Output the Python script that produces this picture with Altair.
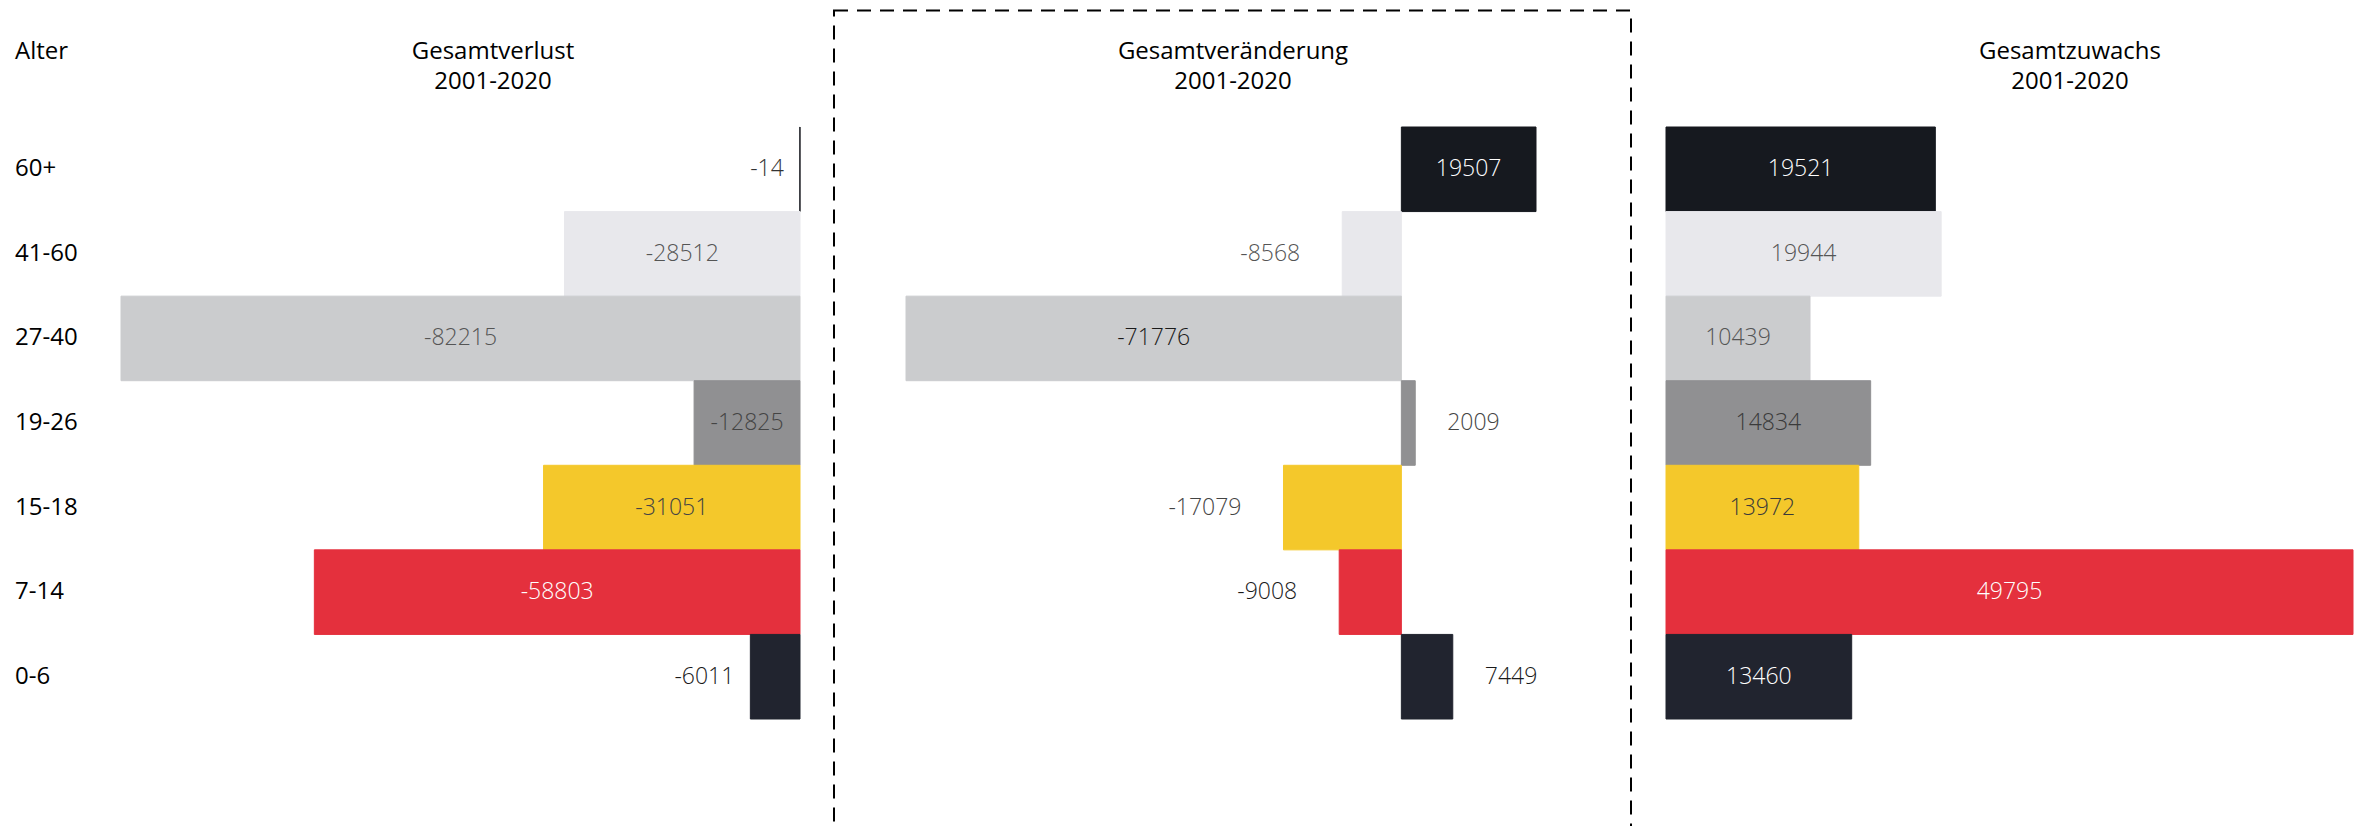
import altair as alt
import pandas as pd

# ---- data ----
ages = ["60+", "41-60", "27-40", "19-26", "15-18", "7-14", "0-6"]
verlust = [-14, -28512, -82215, -12825, -31051, -58803, -6011]
veraenderung = [19507, -8568, -71776, 2009, -17079, -9008, 7449]
zuwachs = [19521, 19944, 10439, 14834, 13972, 49795, 13460]

# ---- style ----
bar_colors = ["#16191F", "#E8E8EC", "#CBCCCE", "#909092", "#F4C82B", "#E4303D", "#21242F"]
verlust_inside = [False, True, True, True, True, True, False]
veraenderung_inside = [True, False, True, False, False, False, False]
zuwachs_inside = [True, True, True, True, True, True, True]
verlust_lc = ["#333333", "#555555", "#555555", "#444444", "#444444", "#FFFFFF", "#1A1A1A"]
veraenderung_lc = ["#FFFFFF", "#555555", "#1A1A1A", "#444444", "#444444", "#1A1A1A", "#1A1A1A"]
zuwachs_lc = ["#FFFFFF", "#555555", "#555555", "#3A3A3A", "#3A3A3A", "#FFFFFF", "#FFFFFF"]

FONT = "Open Sans"
LABEL_SIZE = 23
HEAD_SIZE = 24

yscale = alt.Scale(domain=ages, range=[119, 711], paddingInner=0, paddingOuter=0)
color_scale = alt.Scale(domain=ages, range=bar_colors)


def panel(values, inside, lcolors, domain, rng, dneg, dpos):
    df = pd.DataFrame({
        "age": ages,
        "value": values,
        "lbl": [str(v) for v in values],
        "inside": inside,
        "lc": lcolors,
    })
    xs = alt.Scale(domain=domain, range=rng, nice=False, zero=False)
    base = alt.Chart(df)
    y = alt.Y("age:N", sort=ages, scale=yscale, axis=None)
    bars = base.mark_bar(strokeWidth=1).encode(
        x=alt.X("value:Q", scale=xs, axis=None),
        x2=alt.datum(0),
        y=y,
        color=alt.Color("age:N", scale=color_scale, legend=None),
        stroke=alt.Stroke("age:N", scale=color_scale, legend=None),
    )
    txt = dict(font=FONT, fontSize=LABEL_SIZE, fontWeight=300, baseline="middle")
    inside_t = base.transform_filter("datum.inside").transform_calculate(
        mid="datum.value / 2"
    ).mark_text(align="center", **txt).encode(
        x=alt.X("mid:Q", scale=xs, axis=None),
        y=y,
        text="lbl:N",
        color=alt.Color("lc:N", scale=None),
    )
    neg_t = base.transform_filter("!datum.inside && datum.value < 0").mark_text(
        align="right", dx=dneg, **txt
    ).encode(
        x=alt.X("value:Q", scale=xs, axis=None),
        y=y,
        text="lbl:N",
        color=alt.Color("lc:N", scale=None),
    )
    pos_t = base.transform_filter("!datum.inside && datum.value >= 0").mark_text(
        align="left", dx=dpos, **txt
    ).encode(
        x=alt.X("value:Q", scale=xs, axis=None),
        y=y,
        text="lbl:N",
        color=alt.Color("lc:N", scale=None),
    )
    return [bars, inside_t, neg_t, pos_t]


dummy = pd.DataFrame({"a": [0]})


def head(text, x, y, align="center"):
    return alt.Chart(dummy).mark_text(
        text=text, font=FONT, fontSize=HEAD_SIZE, fontWeight=500, color="#000000",
        align=align, baseline="middle"
    ).encode(x=alt.value(x), y=alt.value(y))


layers = []
layers += panel(verlust, verlust_inside, verlust_lc, [-82215, 0], [113, 792], -16, 16)
layers += panel(veraenderung, veraenderung_inside, veraenderung_lc, [-71776, 19507], [898, 1528], -42, 32)
layers += panel(zuwachs, zuwachs_inside, zuwachs_lc, [0, 49795], [1658, 2345], -16, 16)

age_df = pd.DataFrame({"age": ages})
age_labels = alt.Chart(age_df).mark_text(
    font=FONT, fontSize=HEAD_SIZE, fontWeight=500, align="left", baseline="middle", color="#000000"
).encode(
    x=alt.value(7),
    y=alt.Y("age:N", sort=ages, scale=yscale, axis=None),
    text="age:N",
)

box = alt.Chart(dummy).mark_rect(
    filled=False, stroke="#000000", strokeWidth=2, strokeDash=[14, 9]
).encode(x=alt.value(826), x2=alt.value(1623), y=alt.value(2.5), y2=alt.value(830))

headers = [
    head("Alter", 7, 44, align="left"),
    head("Gesamtverlust", 485, 44),
    head("2001-2020", 485, 74),
    head("Gesamtveränderung", 1225, 44),
    head("2001-2020", 1225, 74),
    head("Gesamtzuwachs", 2062, 44),
    head("2001-2020", 2062, 74),
]

chart = alt.layer(*layers, age_labels, box, *headers).resolve_scale(
    x="independent"
).properties(
    width=2348, height=818, padding=0, autosize="none"
).configure_view(stroke=None)

chart.save("out.html", embed_options={"renderer": "svg", "actions": False})
